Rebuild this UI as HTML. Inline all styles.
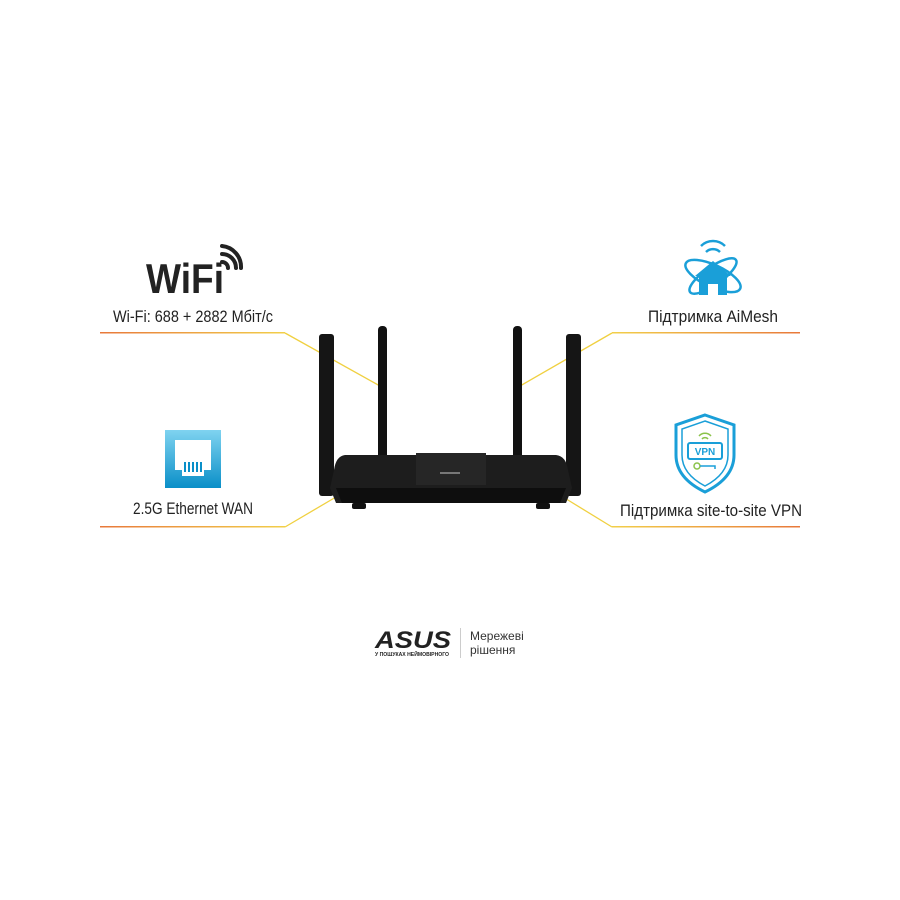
<!DOCTYPE html>
<html><head><meta charset="utf-8"><style>
body{margin:0;background:#fff;}
svg{display:block}
text{font-family:"Liberation Sans",sans-serif;}
</style></head><body>
<svg width="900" height="900" viewBox="0 0 900 900" xmlns="http://www.w3.org/2000/svg">
<defs>
<linearGradient id="gl" x1="0" x2="1"><stop offset="0" stop-color="#e8783a"/><stop offset="1" stop-color="#f2cf4a"/></linearGradient>
<linearGradient id="gr" x1="1" x2="0"><stop offset="0" stop-color="#e8783a"/><stop offset="1" stop-color="#f2cf4a"/></linearGradient>
<linearGradient id="eth" x1="0" y1="0" x2="0" y2="1"><stop offset="0" stop-color="#7fd3f0"/><stop offset="1" stop-color="#0a8fc8"/></linearGradient>
</defs>
<rect x="100" y="332" width="185" height="1.5" fill="url(#gl)"/>
<rect x="100" y="526" width="185" height="1.5" fill="url(#gl)"/>
<rect x="612" y="332" width="188" height="1.5" fill="url(#gr)"/>
<rect x="612" y="526" width="188" height="1.5" fill="url(#gr)"/>
<g stroke="#f0d040" stroke-width="1.3" fill="none">
<line x1="285" y1="333" x2="380" y2="386"/>
<line x1="285" y1="527" x2="336" y2="497"/>
<line x1="612" y1="333" x2="520" y2="386"/>
<line x1="612" y1="527" x2="563" y2="497"/>
</g>
<rect x="319" y="334" width="15" height="162" rx="3" fill="#151515"/>
<rect x="566" y="334" width="15" height="162" rx="3" fill="#151515"/>
<rect x="378" y="326" width="9" height="134" rx="4" fill="#111"/>
<rect x="513" y="326" width="9" height="134" rx="4" fill="#111"/>
<path d="M345 455 L416 455 L416 453 L486 453 L486 455 L556 455 Q566 456 568 470 L572 488 L566 503 L336 503 L330 488 L334 470 Q336 456 345 455Z" fill="#1d1d1d"/>
<rect x="416" y="453" width="70" height="32" fill="#262626"/>
<path d="M336 488 L566 488 L560 503 L342 503Z" fill="#0e0e0e"/>
<rect x="352" y="503" width="14" height="6" rx="2" fill="#111"/>
<rect x="536" y="503" width="14" height="6" rx="2" fill="#111"/>
<rect x="440" y="472" width="20" height="2" fill="#777"/>
<text x="146" y="293" font-weight="bold" font-size="42" fill="#222" textLength="78" lengthAdjust="spacingAndGlyphs">WiFi</text>
<g fill="none" stroke="#222" stroke-width="4" stroke-linecap="round">
<path d="M222 262 a6 6 0 0 1 6 6"/>
<path d="M222 254 a14 14 0 0 1 14 14"/>
<path d="M222 246 a21 21 0 0 1 19 22"/>
</g>
<text x="113" y="322" font-size="17" fill="#222" textLength="160" lengthAdjust="spacingAndGlyphs">Wi-Fi: 688 + 2882 Мбіт/с</text>
<rect x="165" y="430" width="56" height="58" fill="url(#eth)"/>
<path d="M175 440 h36 v30 h-7 v6 h-22 v-6 h-7z" fill="#fff"/>
<g fill="#0a8fc8"><rect x="184" y="462" width="2" height="10"/><rect x="188" y="462" width="2" height="10"/><rect x="192" y="462" width="2" height="10"/><rect x="196" y="462" width="2" height="10"/><rect x="200" y="462" width="2" height="10"/></g>
<text x="133" y="514" font-size="17" fill="#222" textLength="120" lengthAdjust="spacingAndGlyphs">2.5G Ethernet WAN</text>
<g fill="none" stroke="#1a9fd8" stroke-width="2.5">
<ellipse cx="713" cy="276" rx="30" ry="11" transform="rotate(25 713 276)"/>
<ellipse cx="713" cy="276" rx="28" ry="9" transform="rotate(-35 713 276)"/>
<path d="M706 252 a10 10 0 0 1 14 0"/><path d="M701 246 a17 17 0 0 1 24 0"/>
</g>
<path d="M695 276 L713 261 L731 276 L727 276 L727 295 L699 295 L699 276Z" fill="#1a9fd8"/>
<rect x="708" y="284" width="10" height="11" fill="#fff"/>
<text x="648" y="322" font-size="17" fill="#222" textLength="130" lengthAdjust="spacingAndGlyphs">Підтримка AiMesh</text>
<path d="M705 415 L734 425 L734 455 Q734 478 705 492 Q676 478 676 455 L676 425Z" fill="none" stroke="#1a9fd8" stroke-width="3"/>
<path d="M705 421 L728 429 L728 455 Q728 474 705 486 Q682 474 682 455 L682 429Z" fill="none" stroke="#1a9fd8" stroke-width="1.5"/>
<rect x="688" y="443" width="34" height="16" rx="2" fill="#fff" stroke="#1a9fd8" stroke-width="2"/>
<text x="705" y="455" font-weight="bold" font-size="10" fill="#1a9fd8" text-anchor="middle">VPN</text>
<path d="M699 436 a8 8 0 0 1 12 0 M702 439 a4 4 0 0 1 6 0" stroke="#8bc34a" stroke-width="1.5" fill="none"/>
<circle cx="697" cy="466" r="3" fill="none" stroke="#8bc34a" stroke-width="1.5"/>
<path d="M700 466 h15 v3" stroke="#1a9fd8" stroke-width="1.5" fill="none"/>
<text x="620" y="516" font-size="17" fill="#222" textLength="182" lengthAdjust="spacingAndGlyphs">Підтримка site-to-site VPN</text>
<text x="375" y="648" font-weight="bold" font-style="italic" font-size="24" fill="#222" textLength="76" lengthAdjust="spacingAndGlyphs">ASUS</text>
<text x="375" y="656" font-weight="bold" font-size="5" fill="#222" textLength="74" lengthAdjust="spacingAndGlyphs">У ПОШУКАХ НЕЙМОВІРНОГО</text>
<rect x="460" y="628" width="1" height="30" fill="#ccc"/>
<text x="470" y="640" font-size="12" fill="#333">Мережеві</text>
<text x="470" y="654" font-size="12" fill="#333">рішення</text>
</svg>
</body></html>
